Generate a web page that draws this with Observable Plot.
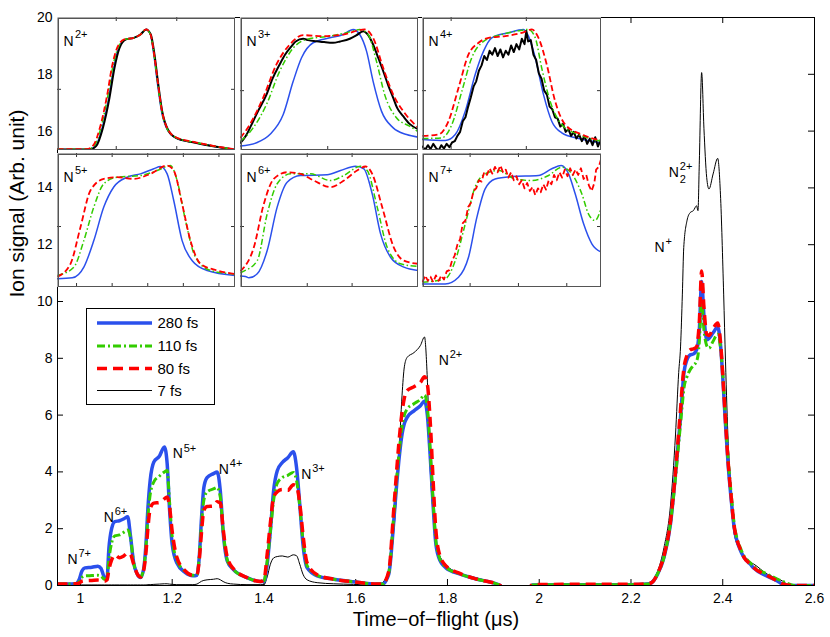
<!DOCTYPE html>
<html><head><meta charset="utf-8">
<script src="https://cdn.jsdelivr.net/npm/d3@7"></script>
<script src="https://cdn.jsdelivr.net/npm/@observablehq/plot@0.6"></script>
<style>
body{margin:0;background:#fff;}
#wrap{position:relative;width:830px;height:637px;overflow:hidden;background:#fff;}
</style></head><body><div id="wrap"></div>
<script>
// ---------- main spectrum data ----------
const tof = [
 0.95,0.97,0.99,
 0.997,1.003,1.01,1.025,1.038,1.045,1.052,1.058,
 1.062,1.068,1.075,1.085,1.095,1.103,1.109,1.116,1.124,1.131,
 1.138,1.143,1.147,1.152,1.16,1.172,1.183,1.189,1.194,1.2,1.21,1.228,1.245,
 1.254,1.259,1.264,1.269,1.276,1.29,1.298,1.305,1.311,1.32,1.334,1.363,1.392,
 1.4,1.407,1.414,1.421,1.429,1.44,1.452,1.464,1.471,1.478,1.485,1.494,1.516,1.552,1.595,1.647,
 1.658,1.672,1.683,1.69,1.694,1.701,1.706,1.712,1.727,1.741,1.75,1.756,1.763,1.769,1.774,1.781,1.796,1.828,1.865,1.908,
 1.915,1.93,1.97,1.985,
 2.05,2.12,2.2,2.235,
 2.245,2.258,2.272,2.286,2.297,2.304,2.308,2.312,2.315,2.322,2.329,2.336,2.343,2.346,2.349,2.354,2.359,2.365,2.37,2.379,2.389,2.395,2.402,2.406,2.412,2.418,2.424,2.439,2.446,2.46,2.467,2.497,2.52,2.53,2.54,2.555,2.6
];
const sig280 = [
 0.05,0.05,0.06,
 0.2,0.5,0.62,0.64,0.68,0.6,0.3,0.27,
 1.3,2.0,2.25,2.28,2.35,2.42,1.75,0.8,0.4,0.28,
 0.6,1.5,2.7,3.7,4.35,4.55,4.88,4.3,2.75,1.45,0.8,0.46,0.34,
 0.36,1.0,2.4,3.45,3.8,3.94,4.0,3.3,1.9,0.87,0.55,0.28,0.14,
 0.14,0.75,1.93,3.33,4.04,4.33,4.5,4.71,4.16,2.87,1.46,0.63,0.34,0.22,0.13,0.05,
 0.05,0.4,2.28,3.7,4.39,5.33,5.7,5.92,6.15,6.33,6.5,6.03,4.39,2.75,1.57,0.99,0.63,0.4,0.22,0.05,
 0.0,-0.3,-0.3,0.02,
 0.03,0.03,0.03,0.05,
 0.1,0.4,0.99,2.16,3.92,5.2,5.92,6.8,7.44,7.95,8.12,8.15,8.3,8.5,9.0,10.7,9.5,8.65,8.7,8.9,9.1,8.5,6.8,5.68,4.2,3.1,2.16,1.22,1.0,0.75,0.62,0.33,0.15,0.05,0.02,0.0,0.0
];
const sig110 = [
 0.05,0.05,0.06,
 0.12,0.28,0.34,0.35,0.36,0.33,0.22,0.25,
 0.9,1.5,1.75,1.78,1.88,1.95,1.7,0.8,0.42,0.3,
 0.6,1.4,2.4,3.2,3.65,3.85,4.0,4.05,3.0,1.7,0.9,0.5,0.36,
 0.38,1.0,2.2,3.0,3.3,3.4,3.45,3.1,1.95,0.9,0.55,0.28,0.14,
 0.16,0.85,1.9,3.0,3.6,3.8,3.88,3.98,3.7,2.8,1.6,0.7,0.36,0.22,0.13,0.05,
 0.05,0.45,2.5,3.9,4.6,5.6,6.0,6.21,6.4,6.55,6.71,6.3,4.6,2.9,1.7,1.05,0.65,0.4,0.22,0.05,
 0.0,-0.3,-0.3,0.02,
 0.03,0.03,0.03,0.05,
 0.1,0.42,1.0,2.2,3.8,5.0,5.7,6.4,6.9,7.35,7.6,7.75,7.9,8.1,8.6,10.0,9.0,8.45,8.36,8.6,8.85,8.4,7.0,5.9,4.4,3.3,2.3,1.3,1.05,0.8,0.68,0.4,0.22,0.15,0.08,0.0,0.0
];
const sig80 = [
 0.05,0.05,0.06,
 0.08,0.15,0.17,0.18,0.19,0.18,0.15,0.2,
 0.55,0.9,1.08,0.98,1.05,1.14,1.1,0.75,0.4,0.3,
 0.55,1.2,2.0,2.7,2.9,2.92,3.05,3.12,2.8,1.9,1.0,0.52,0.36,
 0.38,0.9,1.9,2.65,2.78,2.8,2.95,2.9,2.0,1.0,0.58,0.28,0.14,
 0.2,1.1,2.2,3.1,3.3,3.38,3.35,3.55,3.5,2.9,1.8,0.8,0.38,0.22,0.13,0.05,
 0.05,0.5,2.7,4.2,5.0,6.1,6.6,6.86,7.0,7.15,7.35,7.1,5.6,3.6,2.1,1.2,0.7,0.42,0.22,0.05,
 0.0,-0.3,-0.3,0.03,
 0.04,0.04,0.04,0.06,
 0.1,0.42,1.05,2.25,4.0,5.4,6.2,7.1,7.6,8.1,8.3,8.33,8.4,8.7,9.3,11.07,9.8,8.85,8.8,9.05,9.24,8.6,6.9,5.8,4.3,3.2,2.2,1.25,1.0,0.75,0.63,0.35,0.15,0.06,0.02,0.0,0.0
];
const sig7 = [
 0.02,0.02,0.02,
 0.02,0.02,0.02,0.02,0.02,0.02,0.02,0.02,
 0.02,0.02,0.02,0.02,0.02,0.02,0.02,0.02,0.02,0.02,
 0.02,0.02,0.03,0.03,0.04,0.05,0.06,0.06,0.05,0.04,0.03,0.03,0.03,
 0.05,0.1,0.15,0.18,0.2,0.22,0.24,0.2,0.14,0.08,0.05,0.03,0.03,
 0.03,0.3,0.75,0.97,1.02,1.04,1.0,1.08,1.05,0.75,0.4,0.2,0.1,0.06,0.04,0.02,
 0.1,0.55,1.9,3.45,4.5,6.7,7.7,8.03,8.2,8.45,8.75,7.3,3.9,2.5,1.69,1.15,0.75,0.42,0.26,0.05,
 0.0,-0.3,-0.3,-0.3,
 -0.3,-0.3,-0.3,0.02,
 0.15,0.5,1.34,2.8,5.3,7.5,8.4,10.26,11.9,12.84,13.13,13.2,13.37,13.2,14.95,18.06,16.1,14.37,13.96,14.49,15.04,13.78,10.26,7.9,5.0,3.4,1.9,1.2,0.99,0.82,0.76,0.4,0.24,0.16,0.05,0.0,0.0
];
const xTicks = [1,1.2,1.4,1.6,1.8,2,2.2,2.4,2.6];
const yTicks = [0,2,4,6,8,10,12,14,16,18,20];
const pulseLabels = ["280 fs","110 fs","80 fs","7 fs"];
const ionLabels = [
 {t:0.9717, s:0.93, sup:"7+", sub:""},
 {t:1.0508, s:2.39, sup:"6+", sub:""},
 {t:1.2012, s:4.63, sup:"5+", sub:""},
 {t:1.3015, s:4.10, sup:"4+", sub:""},
 {t:1.4811, s:3.92, sup:"3+", sub:""},
 {t:1.781,  s:7.91, sup:"2+", sub:""},
 {t:2.2512, s:11.9, sup:"+",  sub:""},
 {t:2.2825, s:14.54, sup:"2+", sub:"2"}
];

// ---------- inset data (normalised 0-100 within each panel) ----------
const n2Blue  = [[0,0.75],[17.6,0.75],[21.3,3.3],[25.1,17],[28.8,39.6],[31.6,62],[34.4,77],[38.2,83.5],[42.9,84.7],[46.6,87.2],[49.8,91],[52.2,87.2],[54.1,72],[56,52],[58.4,29.6],[61.6,15.8],[66.3,9.5],[77.5,5.8],[100,0.5]];
const n2Black = [[0,0.75],[18,0.75],[21.7,3.3],[25.5,17],[29.2,39.6],[32,62],[34.8,77],[38.5,83.5],[42.9,84.7],[46.6,87.2],[49.8,91],[52.4,87.2],[54.5,72],[56.4,52],[58.8,29.6],[62,15.8],[66.6,9.5],[77.5,5.8],[100,0.5]];
const n2Green = [[0,1],[17,1],[20.8,3.8],[24.5,17.8],[28.2,40.5],[31,62.5],[34,77.3],[37.8,83.5],[42.9,84.7],[46.6,87.2],[49.8,91],[52.2,87.4],[54.2,72.5],[56.1,52.5],[58.5,30],[61.7,16],[66.4,9.8],[77.5,6],[100,0.7]];
const n2Red   = [[0,1],[16.5,1],[20.2,4],[24,18],[27.8,41],[30.6,63],[33.6,77.5],[37.5,83.5],[42.9,84.7],[46.6,87.2],[49.8,91],[52.2,87.5],[54.2,73],[56.2,53],[58.6,30.5],[61.8,16.3],[66.5,10],[77.5,6.2],[100,0.8]];

const n3Blue  = [[0,3.3],[9,5.8],[16.5,12],[24,27],[29.6,52],[34.3,69.7],[40.8,81],[50.2,84.7],[57.7,87.2],[63.3,91],[67,87.2],[70.8,74.7],[74.5,52],[79.2,29.6],[85.8,17],[93.3,12],[100,10]];
const n3Black = [[0,5.8],[3,11],[7.1,22],[10,30],[14.6,42],[18,54],[22,64.7],[25,72],[28.7,78.4],[31,82],[35.2,84],[38,83],[42.7,82.2],[47,81.5],[52,81],[56,82],[61.4,84],[65,86.5],[69,89.7],[71,88],[74.5,79.7],[77,71],[80.2,59.6],[83,49],[85.8,39.6],[88,32],[91.4,25.8],[95,20],[100,15.8]];
const n3Green = [[0,7],[7.1,17],[14.6,34.6],[22,59.6],[29.6,77],[37,83.5],[50.2,86],[61.4,89.2],[67,91],[71.7,87.2],[76.4,67],[81,42],[87.6,24.6],[95,18.3],[100,14]];
const n3Red   = [[0,9.5],[5.2,19.5],[12.7,39.6],[20.2,64.7],[27.7,79.7],[35.2,86.7],[46.5,86],[57.7,87.2],[69.8,91],[74.5,84.7],[80.2,62],[85.8,42],[91.4,29.6],[100,17]];

const n4Blue  = [[0,8.3],[12.7,7.5],[18.3,12],[23.9,29.6],[29.4,57],[34.1,74.7],[38.7,84.7],[48,88.5],[56.4,91],[59.2,86],[63,69.7],[67.6,42],[72.2,22],[77.8,13.3],[87.2,9],[100,5.8]];
const n4Black = [[0,3],[1.5,0.5],[3,4],[4.5,1],[6,5],[7.5,2],[9,0],[10.5,4],[12,1.5],[13.5,5],[15,2.5],[16.5,6],[18,7],[19.5,11],[21,14],[22.5,22],[24,25],[25.5,33],[27,40],[28.5,48],[30,52],[31.5,60],[33,64],[34.5,71],[36,68],[37.5,75],[39,72],[40.5,77],[42,71],[43.5,76],[45,70],[46.5,75],[48,72],[49.5,79],[51,74],[52.5,80],[54,76],[55.5,84],[57,80],[58,90],[59,82],[60.5,83],[62,72],[63.5,68],[65,58],[66.5,54],[68,45],[69.5,42],[71,33],[72.5,31],[74,25],[75.5,24],[77,18],[78.5,20],[80,14],[81.5,16],[83,11],[84.5,14],[86,9],[87.5,12],[89,7],[90.5,11],[92,5],[93.5,9],[95,4],[96.5,10],[98,3],[99.5,8]];
const n4Green = [[0,9],[10.8,9.5],[16.4,19.5],[22,44.6],[27.5,69.7],[34.1,82],[44.3,87.2],[53.6,90],[59.2,91],[63,84.7],[66.6,62],[71.3,37],[77.8,19.5],[87.2,12],[100,7]];
const n4Red   = [[0,11],[8.9,12],[14.5,22],[20.1,47],[25.7,72.2],[31.3,81],[36.9,84.7],[46.2,86],[55.5,88.5],[61.1,91],[64.8,84.7],[69.4,64.7],[74.1,37],[79.7,19.5],[89,12],[100,7.5]];

const n5Blue  = [[0,6.5],[8.3,7.2],[14.8,15.2],[20.4,35],[26,60],[31.6,75],[39.1,82.3],[46.6,84.8],[54.1,88.6],[57.9,90.3],[61.6,84.8],[65.3,64.9],[70,35],[75.7,20],[84.1,12.7],[100,9]];
const n5Green = [[0,9],[9.2,15.2],[14.8,35],[20.4,60],[26,77.4],[33.5,82.3],[46.6,83.6],[56,87.3],[63.5,91],[67.2,79.8],[71.9,50],[77.5,22.6],[86,12.7],[100,10]];
const n5Red   = [[0,8],[7.3,17.7],[12.9,45],[18.5,72.4],[26,81.1],[33.5,82.3],[42.9,81.1],[52.2,84.8],[61.6,91],[65.3,87.3],[70,62.4],[74.7,35],[80.3,17.7],[89.7,12.7],[100,10]];

const n6Blue  = [[0,8.5],[2.8,8.2],[4.7,7.2],[9.4,10.2],[15,27.6],[20.6,60],[26.2,78.6],[33.7,83.6],[48.7,84.1],[56.2,87.3],[64.6,90.5],[69.3,88.6],[74,69.9],[78.7,40],[84.3,22.6],[91.8,15.2],[100,12.7]];
const n6Green = [[0,11],[1.9,12.2],[9.4,20],[15,55],[20.6,77.4],[28.1,84.8],[39.3,84.8],[50.6,79.8],[58.1,83.6],[67.4,90.5],[71.2,87.3],[76.8,60],[82.4,30],[89.9,17.7],[100,15.7]];
const n6Red   = [[0,12.2],[7.5,30],[13.1,62.4],[18.7,81.1],[26.2,86],[33.7,84.8],[41.2,79.8],[50.6,74.9],[58.1,79.8],[65.5,87.3],[70.2,90.3],[74,84.8],[79.6,60],[86.1,30],[91.8,20],[100,17.7]];

const n7Blue  = [[0,2.7],[12.7,2.7],[20.1,7.7],[25.7,22.6],[30.4,52.5],[35,73.6],[40.6,81],[49.9,82.8],[64.8,83.6],[72.2,88.6],[77.5,91],[81.6,84.8],[85.3,69.9],[90,47.5],[94.6,32.6],[100,26.3]];
const n7Green = [[0,3.9],[12.7,6.5],[18.3,20],[23.9,47.5],[29.4,74.9],[35,84.8],[42.5,87.3],[51.8,81],[61.1,79.8],[70.4,83.6],[77.9,89.8],[83.4,84.8],[89,69.9],[92.7,55],[96.4,50],[100,60]];
const n7Red   = [[0,4],[1.5,9],[3,5],[4.5,8],[6,4],[7.5,9],[9,5],[10.5,9],[12,6],[13.5,12],[15,13],[16.5,20],[18,24],[19.5,32],[21,36],[22.5,48],[24,50],[25.5,60],[27,63],[28.5,72],[30,74],[31.5,80],[33,79],[34.5,86],[36,84],[37.5,89],[39,85],[40.5,90],[42,86],[43.5,91],[45,86],[46.5,88],[48,82],[49.5,86],[51,80],[52.5,83],[54,77],[55.5,80],[57,74],[58.5,78],[60,72],[61.5,75],[63,69],[64.5,74],[66,71],[67.5,77],[69,73],[70.5,80],[72,77],[73.5,84],[75,80],[76.5,86],[78,82],[79.5,88],[81,83],[82.5,89],[84,84],[85.5,88],[87,84],[88.5,89],[90,81],[91.5,84],[93,76],[94.5,72],[96,78],[97,88],[98.5,90],[99.8,96]];

// ---------- styling ----------
const FONT = "'Liberation Sans', Arial, Helvetica, sans-serif";
const BLUE = "#2b50ec", GREEN = "#33cc00", RED = "#ff0000", BLACK = "#000";
const mainStyle = {
  "280 fs": {stroke: BLUE, strokeWidth: 3.5},
  "110 fs": {stroke: GREEN, strokeWidth: 3, strokeDasharray: "8,3,2,3", strokeLinecap: "butt"},
  "80 fs":  {stroke: RED, strokeWidth: 3.5, strokeDasharray: "10,6", strokeLinecap: "butt"},
  "7 fs":   {stroke: BLACK, strokeWidth: 1}
};
const insetStyle = {
  blue:  {stroke: BLUE, strokeWidth: 1.5},
  black: {stroke: BLACK, strokeWidth: 2},
  green: {stroke: GREEN, strokeWidth: 1.5, strokeDasharray: "6,2.5,1.5,2.5", strokeLinecap: "butt"},
  red:   {stroke: RED, strokeWidth: 1.8, strokeDasharray: "6,3", strokeLinecap: "butt"}
};

const rows = vals => tof.map((t, i) => ({t, v: vals[i]}));
const mainSeries = [["7 fs", sig7], ["280 fs", sig280], ["110 fs", sig110], ["80 fs", sig80]];

const wrap = document.getElementById("wrap");
const H = 637, MT = 17, MB = 52, ML = 57, MR = 16;
const fh = H - MT - MB, fw = 830 - ML - MR;

const main = Plot.plot({
  width: 830, height: H,
  marginLeft: ML, marginRight: MR, marginTop: MT, marginBottom: MB,
  x: {domain: [0.95, 2.6]},
  y: {domain: [0, 20]},
  style: {fontFamily: FONT, fontSize: "14px", color: "#000", background: "#fff"},
  marks: [
    Plot.axisX({ticks: xTicks, tickSize: 0, tickPadding: 8, label: null, tickFormat: d => String(+d.toFixed(1)), fontSize: 14}),
    Plot.axisY({ticks: yTicks, tickSize: 0, tickPadding: 5, label: null, fontSize: 14}),
    Plot.tickX(xTicks, {x: d => d, insetTop: fh - 6, stroke: "#000"}),
    Plot.tickX(xTicks, {x: d => d, insetBottom: fh - 6, stroke: "#000"}),
    Plot.tickY(yTicks, {y: d => d, insetRight: fw - 6, stroke: "#000"}),
    Plot.tickY(yTicks, {y: d => d, insetLeft: fw - 6, stroke: "#000"}),
    ...mainSeries.map(([name, vals]) => Plot.line(rows(vals), {x: "t", y: "v", curve: "monotone-x", clip: true, ...mainStyle[name]})),
    Plot.text(ionLabels, {x: "t", y: "s", text: () => "N", textAnchor: "start", fontSize: 14}),
    Plot.text(ionLabels, {x: "t", y: "s", text: "sup", textAnchor: "start", dx: 11, dy: -6, fontSize: 11}),
    Plot.text(ionLabels.filter(d => d.sub), {x: "t", y: "s", text: "sub", textAnchor: "start", dx: 11, dy: 7, fontSize: 11}),
    Plot.text(["Time\u2212of\u2212flight (\u03bcs)"], {text: d => d, frameAnchor: "bottom", dy: 40, fontSize: 20}),
    Plot.text(["Ion signal (Arb. unit)"], {text: d => d, frameAnchor: "left", dx: -40, dy: -4, rotate: -90, fontSize: 21}),
    Plot.frame({stroke: "#000", strokeWidth: 1})
  ]
});
wrap.append(main);

// ---------- insets ----------
const panels = [
  {label: "2+", left: 57,  top: 17,  w: 178, h: 133, xt: [33, 67], yt: [46], s: {blue: n2Blue, black: n2Black, green: n2Green, red: n2Red}},
  {label: "3+", left: 240, top: 17,  w: 178, h: 133, xt: [49], yt: [45], s: {blue: n3Blue, black: n3Black, green: n3Green, red: n3Red}},
  {label: "4+", left: 422, top: 17,  w: 179, h: 133, xt: [16, 58], yt: [45], s: {blue: n4Blue, black: n4Black, green: n4Green, red: n4Red}, noisy: "black"},
  {label: "5+", left: 57,  top: 153, w: 178, h: 134, xt: [10.7, 30.7, 50.7, 70.7, 90.7], yt: [45.5], s: {blue: n5Blue, green: n5Green, red: n5Red}},
  {label: "6+", left: 240, top: 153, w: 178, h: 134, xt: [37.5, 62.7], yt: [45.5], s: {blue: n6Blue, green: n6Green, red: n6Red}},
  {label: "7+", left: 422, top: 153, w: 179, h: 134, xt: [26.6, 53.6, 80.6], yt: [45.5], s: {blue: n7Blue, green: n7Green, red: n7Red}, noisy: "red"}
];
const order = ["blue", "black", "green", "red"];
for (const p of panels) {
  const lines = order.filter(k => p.s[k]).map(k => Plot.line(p.s[k], {
    x: d => d[0], y: d => d[1], clip: true,
    curve: p.noisy === k ? "linear" : "monotone-x",
    ...insetStyle[k]
  }));
  const svg = Plot.plot({
    width: p.w, height: p.h, margin: 0,
    x: {domain: [0, 100], axis: null},
    y: {domain: [0, 100], axis: null},
    style: {fontFamily: FONT, background: "#fff", color: "#000"},
    marks: [
      Plot.tickX(p.xt, {x: d => d, insetTop: p.h - 4, stroke: "#333"}),
      Plot.tickX(p.xt, {x: d => d, insetBottom: p.h - 4, stroke: "#333"}),
      Plot.tickY(p.yt, {y: d => d, insetRight: p.w - 4, stroke: "#333"}),
      Plot.tickY(p.yt, {y: d => d, insetLeft: p.w - 4, stroke: "#333"}),
      ...lines,
      Plot.text(["N"], {text: d => d, frameAnchor: "top-left", textAnchor: "start", dx: 6, dy: 18.7, fontSize: 14}),
      Plot.text([p.label], {text: d => d, frameAnchor: "top-left", textAnchor: "start", dx: 17.5, dy: 12.5, fontSize: 11}),
      Plot.frame({stroke: "#555", strokeWidth: 1.5, inset: 0.75})
    ]
  });
  const div = document.createElement("div");
  div.style.cssText = `position:absolute;left:${p.left}px;top:${p.top}px;width:${p.w}px;height:${p.h}px;`;
  div.append(svg);
  wrap.append(div);
}

// ---------- legend ----------
const legW = 129, legH = 97;
const leg = d3.create("svg").attr("width", legW).attr("height", legH)
  .style("position", "absolute").style("left", "85.5px").style("top", "308px")
  .style("font-family", FONT);
leg.append("rect").attr("x", 0.5).attr("y", 0.5).attr("width", legW - 1).attr("height", legH - 1)
  .attr("fill", "#fff").attr("stroke", "#000").attr("stroke-width", 1);
const rowY = [15, 38, 60.5, 82.5];
pulseLabels.forEach((name, i) => {
  const st = mainStyle[name];
  leg.append("line").attr("x1", 11).attr("x2", 66).attr("y1", rowY[i]).attr("y2", rowY[i])
    .attr("stroke", st.stroke).attr("stroke-width", st.strokeWidth)
    .attr("stroke-dasharray", st.strokeDasharray || null);
  leg.append("text").attr("x", 71.5).attr("y", rowY[i]).attr("dy", "0.35em")
    .attr("font-size", 15).attr("fill", "#000").text(name);
});
wrap.append(leg.node());
</script></body></html>
